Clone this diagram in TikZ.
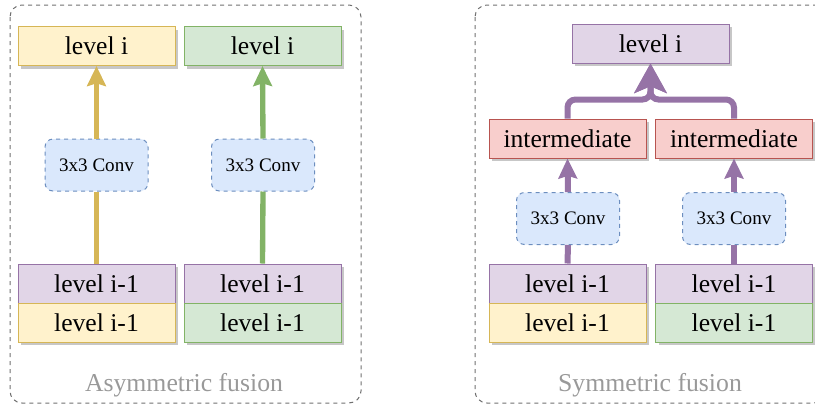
\documentclass[tikz,border=0pt]{standalone}
\usepackage{fontspec}
\setmainfont{Liberation Serif}
\usetikzlibrary{arrows.meta,shadows}
\definecolor{ylwfill}{HTML}{FFF2CC}
\definecolor{ylwline}{HTML}{D6B656}
\definecolor{grnfill}{HTML}{D5E8D4}
\definecolor{grnline}{HTML}{82B366}
\definecolor{purfill}{HTML}{E1D5E7}
\definecolor{purline}{HTML}{9673A6}
\definecolor{redfill}{HTML}{F8CECC}
\definecolor{redline}{HTML}{B85450}
\definecolor{blufill}{HTML}{DAE8FC}
\definecolor{bluline}{HTML}{6C8EBF}
\definecolor{frameline}{HTML}{707070}
\definecolor{capgray}{HTML}{999999}
\tikzset{every picture/.style={line width=0.75pt}}
\tikzset{
	lvlbox/.style={draw, minimum width=117.75pt, minimum height=29.25pt, inner sep=0pt,
		font=\fontsize{19.2}{22}\selectfont,
		drop shadow={shadow xshift=2.25pt, shadow yshift=-2.25pt, fill=black, opacity=0.22}},
	ylwbox/.style={lvlbox, draw=ylwline, fill=ylwfill},
	grnbox/.style={lvlbox, draw=grnline, fill=grnfill},
	purbox/.style={lvlbox, draw=purline, fill=purfill},
	redbox/.style={lvlbox, draw=redline, fill=redfill},
	convbox/.style={draw=bluline, fill=blufill, dashed, rounded corners=6pt, inner sep=0pt,
		minimum width=77.25pt, minimum height=39pt, font=\fontsize{14.3}{17}\selectfont},
	panel/.style={draw=frameline, dash pattern=on 3pt off 3pt, rounded corners=9pt},
	caption/.style={text=capgray, font=\fontsize{19.3}{22}\selectfont},
	fuse/.style={line width=4pt, -{Stealth[length=15pt,width=14pt,inset=2pt]}},
	bigfuse/.style={line width=4.5pt, -{Stealth[length=22pt,width=24pt,inset=5pt]}}}

\begin{document}
\begin{tikzpicture}[x=0.75pt,y=0.75pt,yscale=-1,xscale=1]
	\clip (0,0) rectangle (815,405);

	%Shape: Panels
	\draw [panel] (10,5) rectangle (361,403);
	\draw [panel] (475,5) rectangle (826,403);

	%Shape: Asymmetric fusion boxes
	\node [ylwbox] (asyTopA) at (96.5,46) {level i};
	\node [grnbox] (asyTopB) at (262.5,46) {level i};
	\node [convbox] (asyConvA) at (96.5,165) {3x3 Conv};
	\node [convbox] (asyConvB) at (263,165) {3x3 Conv};
	\node [purbox] (asyPurA) at (96.5,283.5) {level i-1};
	\node [ylwbox] (asyLowA) at (96.5,322.5) {level i-1};
	\node [purbox] (asyPurB) at (262.5,283.5) {level i-1};
	\node [grnbox] (asyLowB) at (262.5,322.5) {level i-1};

	%Shape: Symmetric fusion boxes
	\node [purbox] (symTop) at (650.5,43.5) {level i};
	\node [redbox] (symMidA) at (567.5,138.5) {intermediate};
	\node [redbox] (symMidB) at (734,138.5) {intermediate};
	\node [convbox] (symConvA) at (568,218.5) {3x3 Conv};
	\node [convbox] (symConvB) at (734,218.5) {3x3 Conv};
	\node [purbox] (symPurA) at (567.5,283.5) {level i-1};
	\node [ylwbox] (symLowA) at (567.5,322.5) {level i-1};
	\node [purbox] (symPurB) at (734,283.5) {level i-1};
	\node [grnbox] (symLowB) at (734,322.5) {level i-1};

	%Straight Lines
	\draw [line width=4pt, draw=ylwline] (asyPurA.north) -- (asyConvA.south);
	\draw [fuse, draw=ylwline] (asyConvA.north) -- (asyTopA.south);
	\draw [line width=4pt, draw=grnline] (asyPurB.north) -- (asyConvB.south);
	\draw [fuse, draw=grnline] (asyConvB.north) -- (asyTopB.south);

	\draw [line width=4.5pt, draw=purline] (symPurA.north) -- (symConvA.south);
	\draw [fuse, line width=4.5pt, draw=purline] (symConvA.north) -- (symMidA.south);
	\draw [line width=4.5pt, draw=purline] (symPurB.north) -- (symConvB.south);
	\draw [fuse, line width=4.5pt, draw=purline] (symConvB.north) -- (symMidB.south);

	%Curve Lines
	\draw [bigfuse, draw=purline, rounded corners=6pt] (symMidA.north) -- ++(0,-19) -| (symTop.south);
	\draw [bigfuse, draw=purline, rounded corners=6pt] (symMidB.north) -- ++(0,-19) -| (symTop.south);

	% Text Node
	\node [caption] (asyCap) at (184,385) {Asymmetric fusion};
	% Text Node
	\node [caption] (symCap) at (650,385) {Symmetric fusion};

\end{tikzpicture}
\end{document}
